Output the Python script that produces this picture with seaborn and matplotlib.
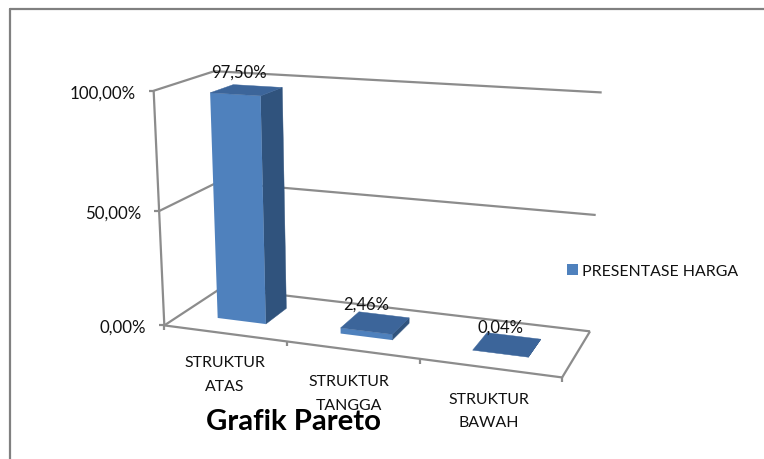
import numpy as np
import pandas as pd
import matplotlib
matplotlib.use("Agg")
import matplotlib.pyplot as plt
from matplotlib.patches import Polygon, Rectangle
from matplotlib.transforms import Transform
import seaborn as sns

categories = ["STRUKTUR\nATAS", "STRUKTUR\nTANGGA", "STRUKTUR\nBAWAH"]
values = [97.50, 2.46, 0.04]
value_labels = ["97,50%", "2,46%", "0,04%"]
axis_ticks = [0, 50, 100]
axis_tick_labels = ["0,00%", "50,00%", "100,00%"]
series_name = "PRESENTASE HARGA"
chart_title = "Grafik Pareto"

FRONT, SIDE, TOP = "#4F81BD", "#30537D", "#3C659A"
GRID = "#8C8C8C"
TEXT = "#111111"
FONT = "Lato"

sns.set_theme(style="white")
plt.rcParams["font.family"] = [FONT, "DejaVu Sans"]

# Camera of the 3-D chart, fitted to where the box corners sit on the canvas
cam_refs = [
    ((0, 0, 0), (165, 327)), ((1, 0, 0), (287, 343)), ((2, 0, 0), (419, 360)),
    ((3, 0, 0), (562, 379)), ((0, 1, 0), (221, 290)), ((3, 1, 0), (590, 331)),
    ((0, 0, 100), (153, 92)), ((0, 1, 100), (214, 73)), ((3, 1, 100), (602, 94)),
    ((0, 0, 50), (160, 210)), ((3, 1, 50), (596, 216)), ((0, 1, 50), (218, 182)),
]
A, b = [], []
for (u, w, v), (px, py) in cam_refs:
    A.append([u, w, v, 1, 0, 0, 0, 0, -px * u, -px * w, -px * v])
    A.append([0, 0, 0, 0, u, w, v, 1, -py * u, -py * w, -py * v])
    b += [px, py]
sol = np.linalg.lstsq(np.array(A, float), np.array(b, float), rcond=None)[0]
CAM = np.append(sol, 1.0).reshape(3, 4)


def project(u, w, v):
    p = CAM @ np.array([u, w, v, 1.0])
    return p[:2] / p[2]


class Front(Transform):
    """(category position, value) -> canvas pixel on a plane of constant depth."""
    input_dims = output_dims = 2
    is_separable = False

    def __init__(self, w):
        super().__init__()
        self.w = w

    def transform_non_affine(self, xy):
        xy = np.asarray(xy, float)
        return np.array([project(x + 0.5, self.w, y) for x, y in xy])


fig = plt.figure(figsize=(7.64, 4.6), dpi=100, facecolor="white")
ax = fig.add_axes([0, 0, 1, 1])

df = pd.DataFrame({"kategori": categories, "nilai": values})
sns.barplot(data=df, x="kategori", y="nilai", color=FRONT, saturation=1,
            width=0.4, ax=ax, errorbar=None, zorder=5)
rects = [p for p in ax.patches if isinstance(p, Rectangle)]
ax.set_xticks([])
ax.set_xlim(0, 764)
ax.set_ylim(460, 0)
ax.axis("off")

W0, W1 = 0.3, 0.7


def line(points, lw=1.6, z=1):
    xs, ys = zip(*points)
    ax.plot(xs, ys, color=GRID, lw=lw, solid_capstyle="butt", zorder=z, clip_on=False)


# Outer frame of the embedded picture: only the top and left edges are in view
ax.plot([10, 10], [460, 10], color="#808080", lw=1.6, zorder=1)
ax.plot([10, 764], [10, 10], color="#808080", lw=1.6, zorder=1)

# Walls, gridlines and floor
for t in axis_ticks:
    line([project(0, 0, t), project(0, 1, t), project(3, 1, t)])
    fx, fy = project(0, 0, t)
    line([(fx - 5, fy), (fx, fy)])
line([project(0, 0, 0), project(0, 0, 100)])
line([project(0, 0, 0), project(3, 0, 0)])
line([project(3, 0, 0), project(3, 1, 0)])
for i in range(4):
    fx, fy = project(i, 0, 0)
    line([(fx, fy), (fx, fy + 5)])

# Bars: seaborn's rectangles form the front faces, side and top are added in depth
for r in rects:
    x0, x1, h = r.get_x(), r.get_x() + r.get_width(), r.get_height()
    r.set_transform(Front(W0) + ax.transData)
    r.set_clip_on(False)
    r.set_edgecolor("none")
    u0, u1 = x0 + 0.5, x1 + 0.5
    ax.add_patch(Polygon([project(u1, W0, 0), project(u1, W1, 0),
                          project(u1, W1, h), project(u1, W0, h)],
                         closed=True, fc=SIDE, ec=SIDE, lw=0.3, zorder=4, clip_on=False))
    ax.add_patch(Polygon([project(u0, W0, h), project(u1, W0, h),
                          project(u1, W1, h), project(u0, W1, h)],
                         closed=True, fc=TOP, ec=TOP, lw=0.3, zorder=6, clip_on=False))

fs_axis = 12.2
fs_cat = 11.4
fs_val = 12.0
for lab, t in zip(axis_tick_labels, axis_ticks):
    fx, fy = project(0, 0, t)
    ax.text(fx - 18, fy + 1.5, lab, ha="right", va="center", fontsize=fs_axis,
            color=TEXT, zorder=8)

for lab, (cx, cy) in zip(categories, [(225, 375), (349, 394), (489, 411.5)]):
    ax.text(cx, cy, lab, ha="center", va="center", fontsize=fs_cat, color=TEXT,
            linespacing=1.9, zorder=8)

for lab, (cx, cy) in zip(value_labels, [(239, 73), (366, 305), (500, 328)]):
    ax.text(cx, cy, lab, ha="center", va="center", fontsize=fs_val, color=TEXT, zorder=8)

ax.add_patch(Rectangle((567, 265), 11, 11, fc=FRONT, ec="none", zorder=8))
ax.text(582, 272, series_name, ha="left", va="center", fontsize=fs_cat, color=TEXT, zorder=8)

ax.text(293, 422, chart_title, ha="center", va="center", fontsize=21.2,
        fontweight="bold", color="#000000", zorder=9)

fig.savefig("out.png", dpi=100, facecolor="white")
